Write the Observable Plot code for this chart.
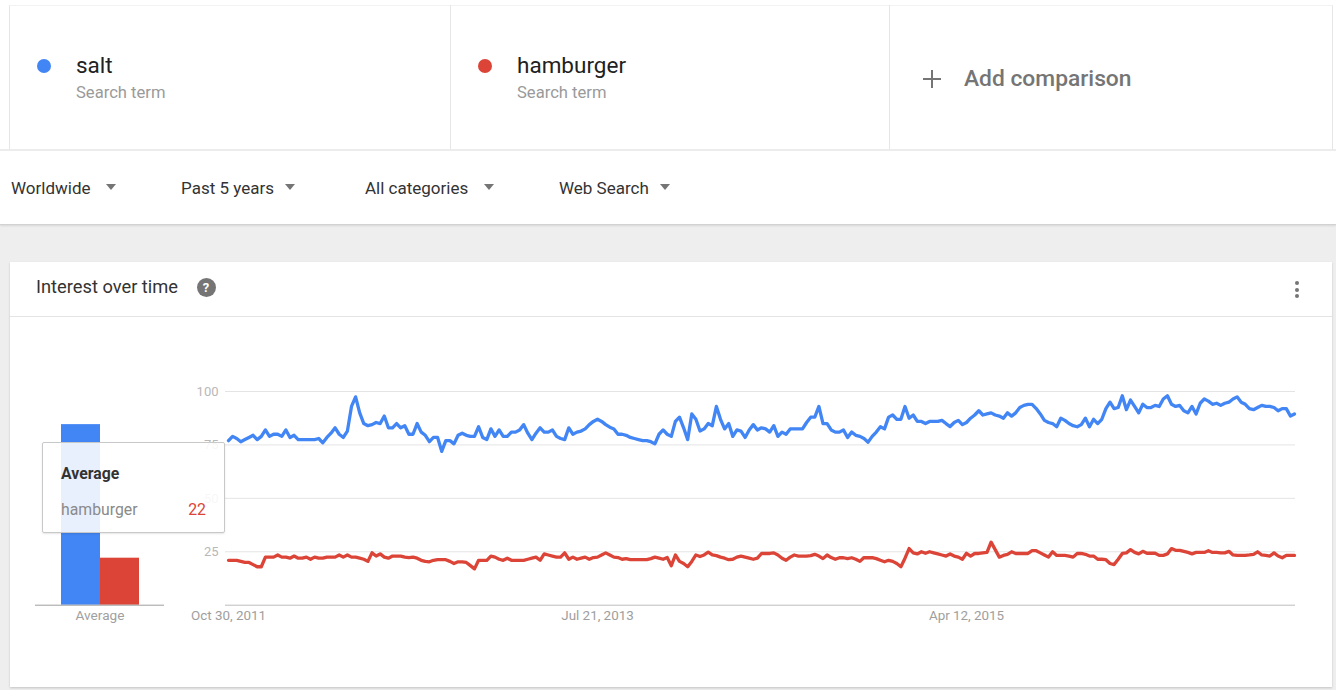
<!DOCTYPE html>
<html>
<head>
<meta charset="utf-8">
<script src="https://cdn.jsdelivr.net/npm/d3@7"></script>
<script src="https://cdn.jsdelivr.net/npm/@observablehq/plot@0.6"></script>
<style>
html,body{margin:0;padding:0;}
body{width:1336px;height:690px;position:relative;overflow:hidden;background:#eeeeee;font-family:Roboto,"Noto Sans",sans-serif;}
.abs{position:absolute;line-height:1;white-space:nowrap;}
#top{position:absolute;left:0;top:0;width:1336px;height:224px;background:#fff;border-bottom:1px solid #d2d2d2;box-shadow:0 1px 2px rgba(0,0,0,0.10);}
#terms{position:absolute;left:9px;top:5px;width:1324px;height:145px;box-sizing:border-box;border-left:1px solid #e6e6e6;border-right:1px solid #e6e6e6;border-top:1px solid #f2f2f2;}
.vsep{position:absolute;top:5px;width:1px;height:145px;background:#e6e6e6;}
#hline{position:absolute;left:0;top:149px;width:1336px;height:2px;background:#ececec;}
.dot{position:absolute;width:14px;height:14px;border-radius:50%;}
.term{font-size:22.5px;color:#212121;}
.sub{font-size:16.6px;color:#9a9a9a;}
.filter{font-size:17px;color:#333;}
.tri{position:absolute;width:0;height:0;border-left:5px solid transparent;border-right:5px solid transparent;border-top:6px solid #757575;}
#card{position:absolute;left:10px;top:262px;width:1322px;height:425px;background:#fff;box-shadow:0 1px 2px rgba(0,0,0,0.18);}
#divider{position:absolute;left:10px;top:316px;width:1322px;height:1px;background:#e4e4e4;}
.kdot{position:absolute;width:4px;height:4px;border-radius:50%;background:#757575;}
#help{position:absolute;left:196.5px;top:277.5px;width:19px;height:19px;border-radius:50%;background:#757575;color:#fff;font-size:13px;font-weight:700;text-align:center;line-height:19px;}
.plot{position:absolute;left:0;top:370px;}
#tip{position:absolute;left:42px;top:442px;width:183px;height:91px;box-sizing:border-box;border:1px solid #c8c8c8;background:rgba(255,255,255,0.88);box-shadow:0 1px 2px rgba(0,0,0,0.10);border-radius:2px;}
</style>
</head>
<body>
<div id="top">
  <div id="terms"></div>
  <div class="vsep" style="left:450px"></div>
  <div class="vsep" style="left:889px"></div>
  <div id="hline"></div>
  <div class="dot" style="left:37px;top:59px;background:#4285f4"></div>
  <div class="abs term" style="left:76px;top:54.1px">salt</div>
  <div class="abs sub" style="left:76px;top:85px">Search term</div>
  <div class="dot" style="left:478px;top:59px;background:#db4437"></div>
  <div class="abs term" style="left:517px;top:54.1px">hamburger</div>
  <div class="abs sub" style="left:517px;top:85px">Search term</div>
  <div style="position:absolute;left:923px;top:78px;width:18px;height:2px;background:#757575"></div>
  <div style="position:absolute;left:931px;top:70px;width:2px;height:18px;background:#757575"></div>
  <div class="abs" style="left:964px;top:67.5px;font-size:22.8px;font-weight:500;color:#757575">Add comparison</div>
  <div class="abs filter" style="left:11px;top:179.8px">Worldwide</div>
  <div class="tri" style="left:106px;top:184px"></div>
  <div class="abs filter" style="left:181px;top:179.8px">Past 5 years</div>
  <div class="tri" style="left:285px;top:184px"></div>
  <div class="abs filter" style="left:365px;top:179.8px">All categories</div>
  <div class="tri" style="left:484px;top:184px"></div>
  <div class="abs filter" style="left:559px;top:179.8px">Web Search</div>
  <div class="tri" style="left:660px;top:184px"></div>
</div>
<div id="card"></div>
<div id="divider"></div>
<div class="abs" style="left:36px;top:277.6px;font-size:18.3px;color:#333">Interest over time</div>
<div id="help">?</div>
<div class="kdot" style="left:1295px;top:281px"></div>
<div class="kdot" style="left:1295px;top:287.5px"></div>
<div class="kdot" style="left:1295px;top:294px"></div>
<div id="mainplot" class="plot"></div>
<div id="avgplot" class="plot"></div>
<div class="abs" style="left:100px;top:608.5px;transform:translateX(-50%);font-size:13.6px;color:#a0a0a0">Average</div>
<div id="tip">
  <div class="abs" style="left:18px;top:22.5px;font-size:15.8px;font-weight:700;color:#333">Average</div>
  <div class="abs" style="left:18px;top:58.7px;font-size:15.8px;color:#8a8a8a">hamburger</div>
  <div class="abs" id="tipval" style="right:18px;top:58.7px;font-size:15.8px;color:#db4437"></div>
</div>
<script>
// ---- data ----
const terms = ["salt", "hamburger"];
const termColors = ["#4285f4", "#db4437"];
const startDate = "2011-10-30"; // first week, weekly data
const averages = [84.5, 22];
const tooltipTerm = "hamburger";
const tooltipValue = 22;

const salt = [
  77, 79, 78, 76.5, 77.5, 78.5, 79.5, 77.5, 79, 82,
  79, 80, 80, 79, 82, 78.5, 79.5, 77.5, 77.5, 77.5,
  77.5, 77.5, 78, 76, 78.5, 80.5, 83, 80, 78.5, 81.5,
  93, 97.5, 90, 85, 84, 84.5, 85.5, 85, 88.5, 83,
  83, 85, 83, 84, 80, 80, 85, 81, 79.5, 76.5,
  78.5, 78.5, 72, 77, 77, 75.5, 79.5, 80.5, 79.5, 79,
  79, 83.5, 78.5, 77.5, 82.5, 79, 82, 79, 79, 81,
  81, 82, 84.5, 80.5, 77.5, 80.5, 83, 81, 81, 82,
  79, 78, 77.5, 83, 80, 81, 81.5, 82.5, 84.5, 86,
  87, 86, 84.5, 83.3, 82.5, 80, 80, 79.5, 78.5, 78,
  77.5, 77, 77, 76.5, 75.5, 80, 82, 80, 79, 86,
  88, 83, 77.5, 89.5, 87, 81.5, 82.5, 85, 84, 93,
  87, 82.5, 85, 79, 82, 81.5, 78.5, 82, 84.5, 82,
  83, 82.5, 81, 84, 79, 81, 80, 82.5, 82.5, 82.5,
  82.5, 85.5, 88, 88, 93, 85, 85, 82, 81, 81,
  82, 78.5, 81, 79.5, 79, 78, 76.3, 79, 81, 83.5,
  82.5, 88, 89, 87, 87, 93, 87.5, 89, 86, 86,
  85, 86, 86, 86, 86.5, 85, 83.6, 85.5, 86.5, 84.5,
  85.5, 87.5, 89, 91, 89, 89.5, 90, 89, 88.5, 87.5,
  90, 88.5, 90, 92.5, 93.5, 94, 94, 92, 89.5, 86.5,
  85.5, 85, 83.5, 87.5, 86.5, 85, 84, 83.5, 84.5, 87.5,
  83.5, 87, 85, 87, 92, 95, 92, 92.5, 98, 91.5,
  96, 93, 90, 94, 92.5, 92.5, 93.5, 93, 96.5, 98,
  94, 93, 93.5, 91, 90, 93, 89.5, 94.5, 96.5, 95.5,
  94, 94.5, 93.5, 94.5, 95, 96.5, 97.5, 95, 94, 92,
  91.5, 92.5, 93.5, 93, 93, 92.5, 91, 92, 92, 88.5, 89.5
];

const hamburger = [
  21, 21, 21, 20.5, 20, 20, 19, 18, 18, 22.5,
  22.5, 22.5, 23.5, 22.5, 22.5, 22, 23, 22, 22, 22.5,
  21.5, 22.5, 22, 22, 22.5, 22.5, 22.5, 23.5, 22.5, 23.5,
  22.5, 22.5, 22, 21.5, 20.5, 24.5, 23, 24, 22.5, 22,
  23, 23, 23, 22.5, 22.3, 22.5, 22, 21, 20.5, 20.3,
  21, 21.3, 21.3, 21.3, 20.5, 19.5, 20.3, 20.3, 20, 18.5,
  17, 21, 21, 21, 23, 22.5, 21.5, 21, 22, 21,
  21, 21, 21, 21.5, 22, 22.5, 21, 24, 23.5, 23,
  22.5, 22.5, 24.5, 21.5, 22.5, 21.5, 22, 22.5, 21.5, 22.3,
  22.5, 23.5, 24.5, 23.5, 22.5, 22.3, 21.5, 21.8, 21.3, 21.3,
  21.3, 21.3, 21.3, 21.8, 22.5, 22, 21.5, 22.3, 18.5, 23.5,
  20.5, 19.5, 18, 20.5, 23.5, 22.8, 23.5, 24.8, 23.5, 23.2,
  22.5, 22, 21.3, 21.5, 22.5, 23, 22.5, 22, 21.5, 22,
  24.2, 24.2, 24.2, 24.5, 23.5, 22, 21, 22.5, 23.5, 23,
  23, 23, 23.2, 23.8, 23, 21.8, 23.5, 22.3, 21.5, 22.2,
  22.2, 21.8, 22.2, 21.5, 20.5, 22.3, 22.2, 22.3, 21.8, 21,
  20.3, 21, 20.5, 19.5, 18, 22, 26.5, 24.5, 24, 25,
  24.3, 25, 24.5, 24, 23.5, 23, 24, 23, 22.5, 21.5,
  24.3, 23, 24.2, 24.2, 24.5, 24.7, 29.5, 26, 22.5, 23.3,
  23.8, 25, 24.2, 24.2, 24.2, 24.2, 25.5, 25.5, 24.5, 23.5,
  22.5, 25, 23.3, 23.3, 23.3, 23, 22.5, 24.2, 24.2, 23.8,
  23, 23, 21.5, 21.5, 21.3, 19.5, 19, 21.5, 24.2, 24.5,
  26, 24.7, 24, 25.2, 24.3, 24.3, 24.3, 23.3, 23.3, 24,
  26.5, 25.7, 25.7, 25.2, 24.7, 24, 24.7, 24.7, 24.7, 25.5,
  24.7, 24.7, 24.5, 24.5, 25.2, 23.5, 23.3, 23.3, 23.3, 23.5,
  23.8, 25, 23.5, 23.3, 23, 24.5, 23, 22.2, 23.3, 23.3, 23.3
];

const yTicks = [25, 50, 75, 100];
const xTickDates = ["2011-10-30", "2013-07-21", "2015-04-12"];
const xTickLabels = ["Oct 30, 2011", "Jul 21, 2013", "Apr 12, 2015"];

// ---- build ----
const start = new Date(startDate + "T00:00:00Z");
const dates = salt.map((_, i) => d3.utcWeek.offset(start, i));
const rows = [];
salt.forEach((v, i) => rows.push({date: dates[i], value: v, term: "salt"}));
hamburger.forEach((v, i) => rows.push({date: dates[i], value: v, term: "hamburger"}));
const tickDates = xTickDates.map(s => new Date(s + "T00:00:00Z"));
const labelMap = new Map(tickDates.map((d, i) => [+d, xTickLabels[i]]));

const main = Plot.plot({
  width: 1336,
  height: 260,
  marginLeft: 225,
  marginRight: 41,
  marginTop: 21,
  marginBottom: 25.3,
  style: {background: "transparent", fontFamily: "Roboto, sans-serif", overflow: "visible"},
  x: {type: "utc", domain: [dates[0], dates[dates.length - 1]], range: [228, 1294]},
  y: {domain: [0, 100]},
  color: {domain: terms, range: termColors},
  marks: [
    Plot.gridY(yTicks, {stroke: "#e4e4e4", strokeOpacity: 1}),
    Plot.ruleY([0], {stroke: "#bdbdbd"}),
    Plot.axisY(yTicks, {tickSize: 0, tickPadding: 7, fill: "#b8b8b8", fontSize: 13, label: null}),
    Plot.axisX(tickDates, {tickSize: 0, tickPadding: 5, fill: "#9e9e9e", fontSize: 13.4, label: null,
      tickFormat: d => labelMap.get(+d)}),
    Plot.lineY(rows, {x: "date", y: "value", stroke: "term", z: "term", strokeWidth: 3.3,
      strokeLinejoin: "round", strokeLinecap: "round"})
  ]
});
document.getElementById("mainplot").appendChild(main);

const avgRows = terms.map((t, i) => ({term: t, value: averages[i]}));
const avg = Plot.plot({
  width: 200,
  height: 260,
  marginLeft: 35,
  marginRight: 36,
  marginTop: 21,
  marginBottom: 25.3,
  style: {background: "transparent", fontFamily: "Roboto, sans-serif", overflow: "visible"},
  x: {type: "band", domain: terms, range: [61, 139], padding: 0, axis: null},
  y: {domain: [0, 100], axis: null},
  color: {domain: terms, range: termColors},
  marks: [
    Plot.barY(avgRows, {x: "term", y: "value", fill: "term", inset: 0}),
    Plot.ruleY([0], {stroke: "#9e9e9e"})
  ]
});
document.getElementById("avgplot").appendChild(avg);

document.getElementById("tipval").textContent = tooltipValue;
</script>
</body>
</html>
